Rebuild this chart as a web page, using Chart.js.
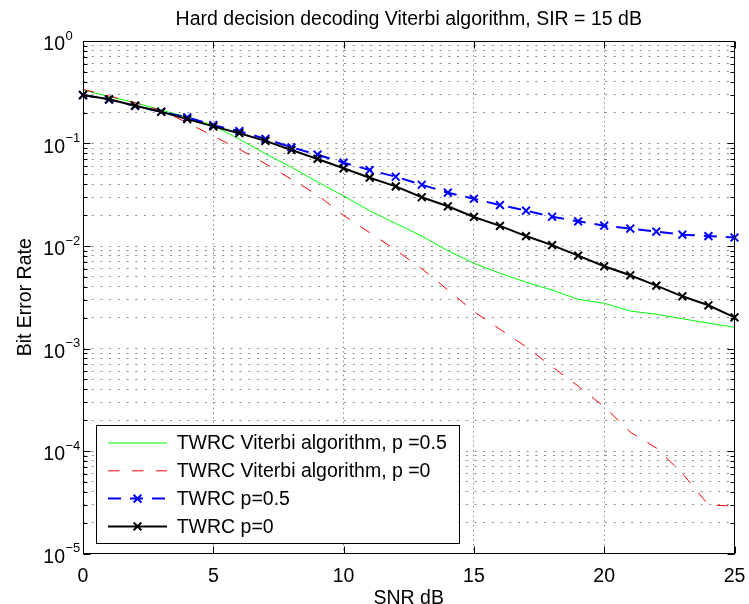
<!DOCTYPE html>
<html>
<head>
<meta charset="utf-8">
<script src="https://cdn.jsdelivr.net/npm/chart.js@4.4.1/dist/chart.umd.min.js"></script>
<style>
  html, body { margin: 0; padding: 0; background: #fff; }
</style>
</head>
<body>
<canvas id="berChart" width="749" height="604"></canvas>
<script>
// SNR points (dB)
const snr = [0, 1, 2, 3, 4, 5, 6, 7, 8, 9, 10, 11, 12, 13, 14, 15, 16, 17, 18, 19, 20, 21, 22, 23, 24, 25];

// BER curves
const viterbiHalf = [0.333, 0.287, 0.250, 0.212, 0.181, 0.150, 0.110, 0.0795, 0.0586, 0.0421, 0.0308, 0.0221, 0.0166,
  0.0125, 0.0090, 0.00678, 0.00542, 0.00443, 0.00372, 0.00302, 0.00276, 0.00232, 0.00216, 0.00195, 0.00177, 0.00161];
const viterbiZero = [0.338, 0.291, 0.250, 0.210, 0.160, 0.118, 0.0878, 0.0635, 0.0447, 0.0315, 0.0199, 0.0135, 0.00914,
  0.00601, 0.00372, 0.00229, 0.00154, 0.00104, 0.000664, 0.000430, 0.000270, 0.000153, 0.000107, 0.0000605, 0.0000297, 0.0000290];
const twrcHalf = [0.297, 0.268, 0.233, 0.204, 0.180, 0.151, 0.132, 0.111, 0.0918, 0.0778, 0.0650, 0.0551, 0.0474,
  0.0396, 0.0331, 0.0289, 0.0251, 0.0221, 0.0193, 0.0174, 0.0158, 0.0148, 0.0138, 0.0129, 0.0125, 0.0121];
const twrcZero = [0.297, 0.270, 0.234, 0.204, 0.173, 0.147, 0.126, 0.106, 0.0865, 0.0707, 0.0573, 0.0464, 0.0382,
  0.0299, 0.0244, 0.0192, 0.0157, 0.0125, 0.0102, 0.00805, 0.00634, 0.00518, 0.00410, 0.00323, 0.00264, 0.00201];

// axis ticks
const xTicks = [0, 5, 10, 15, 20, 25];
const yDecades = [-5, -4, -3, -2, -1, 0];
const yMinorSteps = [1, 2, 3, 4, 5, 6, 7, 8, 9];

const FONT = '"Liberation Sans", Arial, Helvetica, sans-serif';
const GRID = '#8c8c8c';

const toPoints = (ys) => snr.map((x, i) => ({ x: x, y: ys[i] }));

// box, inward ticks, 10^n labels and the legend, drawn like the matlab figure
const matlabAxes = {
    id: 'matlabAxes',
    afterDatasetsDraw(chart) {
        const ctx = chart.ctx;
        const area = chart.chartArea;
        const xs = chart.scales.x;
        const ys = chart.scales.y;
        const L = Math.round(area.left) + 0.5;
        const R = Math.round(area.right) - 0.5;
        const T = Math.round(area.top) + 0.5;
        const B = Math.round(area.bottom) - 0.5;

        ctx.save();
        ctx.strokeStyle = '#000';
        ctx.lineWidth = 1;
        ctx.setLineDash([]);

        // y ticks on both sides
        ys.ticks.forEach((t) => {
            const py = Math.round(ys.getPixelForValue(t.value)) + 0.5;
            const len = t.major ? 7 : 4;
            ctx.beginPath();
            ctx.moveTo(L, py); ctx.lineTo(L + len, py);
            ctx.moveTo(R, py); ctx.lineTo(R - len, py);
            ctx.stroke();
        });
        // x ticks top and bottom
        xs.ticks.forEach((t) => {
            const px = Math.round(xs.getPixelForValue(t.value)) + 0.5;
            ctx.beginPath();
            ctx.moveTo(px, B); ctx.lineTo(px, B - 7);
            ctx.moveTo(px, T); ctx.lineTo(px, T + 7);
            ctx.stroke();
        });
        ctx.strokeRect(L, T, R - L, B - T);

        // y labels as 10 with superscript exponent
        ctx.fillStyle = '#000';
        ys.ticks.filter((t) => t.major).forEach((t) => {
            const py = ys.getPixelForValue(t.value);
            const e = Math.round(Math.log10(t.value));
            const xBase = area.left - 18;
            ctx.font = '19.5px ' + FONT;
            ctx.textAlign = 'right';
            ctx.textBaseline = 'middle';
            ctx.fillText('10', xBase, py + 4);
            ctx.font = '13px ' + FONT;
            ctx.textAlign = 'left';
            ctx.fillText(e === 0 ? '0' : '\u2212' + Math.abs(e), xBase + 0.5, py - 5);
        });

        // legend box in the lower left corner
        const bx = area.left + 12.7;
        const bw = 362.6;
        const bh = 118.3;
        const by = area.bottom - 10.2 - bh;
        ctx.fillStyle = '#fff';
        ctx.fillRect(bx, by, bw, bh);
        ctx.strokeRect(Math.round(bx) + 0.5, Math.round(by) + 0.5, Math.round(bw), Math.round(bh));

        chart.data.datasets.forEach((ds, i) => {
            const rowY = by + 18 + i * 27.8;
            const x0 = bx + 12.3;
            const x1 = bx + 71.3;
            ctx.strokeStyle = ds.borderColor;
            ctx.lineWidth = ds.borderWidth;
            ctx.setLineDash(ds.borderDash || []);
            ctx.beginPath();
            ctx.moveTo(x0, rowY); ctx.lineTo(x1, rowY);
            ctx.stroke();
            ctx.setLineDash([]);
            if (ds.pointRadius > 0) {
                const cx = (x0 + x1) / 2;
                const h = ds.pointRadius * Math.SQRT1_2;
                ctx.lineWidth = ds.pointBorderWidth;
                ctx.beginPath();
                ctx.moveTo(cx - h, rowY - h); ctx.lineTo(cx + h, rowY + h);
                ctx.moveTo(cx - h, rowY + h); ctx.lineTo(cx + h, rowY - h);
                ctx.stroke();
            }
            ctx.fillStyle = '#000';
            ctx.font = '19.5px ' + FONT;
            ctx.textAlign = 'left';
            ctx.textBaseline = 'middle';
            ctx.fillText(ds.label, bx + 81, rowY + 1);
        });
        ctx.restore();
    }
};

const ctx = document.getElementById('berChart').getContext('2d');
new Chart(ctx, {
    type: 'line',
    data: {
        datasets: [
            {
                label: 'TWRC Viterbi algorithm, p =0.5',
                data: toPoints(viterbiHalf),
                borderColor: '#00ff00',
                borderWidth: 1,
                pointRadius: 0,
                order: 3
            },
            {
                label: 'TWRC Viterbi algorithm, p =0',
                data: toPoints(viterbiZero),
                borderColor: '#ff0000',
                borderWidth: 1,
                borderDash: [11.5, 12.5],
                pointRadius: 0,
                order: 2
            },
            {
                label: 'TWRC p=0.5',
                data: toPoints(twrcHalf),
                borderColor: '#0000ff',
                borderWidth: 2,
                borderDash: [13, 9],
                pointStyle: 'crossRot',
                pointRadius: 5.5,
                pointBorderWidth: 2,
                pointBorderColor: '#0000ff',
                pointBackgroundColor: '#0000ff',
                order: 1,
                clip: false
            },
            {
                label: 'TWRC p=0',
                data: toPoints(twrcZero),
                borderColor: '#000000',
                borderWidth: 2,
                pointStyle: 'crossRot',
                pointRadius: 5.5,
                pointBorderWidth: 2,
                pointBorderColor: '#000000',
                pointBackgroundColor: '#000000',
                order: 0,
                clip: false
            }
        ]
    },
    options: {
        responsive: false,
        animation: false,
        devicePixelRatio: 1,
        layout: { autoPadding: false, padding: { left: 0, right: 14.5, top: 0, bottom: 0 } },
        elements: { line: { tension: 0 } },
        plugins: {
            legend: { display: false },
            tooltip: { enabled: false },
            title: {
                display: true,
                fullSize: false,
                text: 'Hard decision decoding Viterbi algorithm, SIR = 15 dB',
                color: '#000',
                font: { family: FONT, size: 19.5, weight: 'normal', lineHeight: 1.2 },
                padding: { top: 8, bottom: 9.6 }
            }
        },
        scales: {
            x: {
                type: 'linear',
                min: 0,
                max: 25,
                afterBuildTicks: (scale) => {
                    scale.ticks = xTicks.map((v) => ({ value: v }));
                },
                afterFit: (scale) => {
                    // fixed axis band, and no extra side room for the end labels
                    scale.height = 50.5;
                    scale.paddingLeft = 0;
                    scale.paddingRight = 0;
                },
                grid: { color: GRID, lineWidth: 1, drawTicks: false },
                border: { display: false, dash: [1.5, 3.2] },
                ticks: {
                    color: '#000',
                    font: { family: FONT, size: 19.5 },
                    padding: 11,
                    maxRotation: 0,
                    autoSkip: false
                },
                title: {
                    display: true,
                    text: 'SNR dB',
                    color: '#000',
                    font: { family: FONT, size: 19.5, lineHeight: 0.56 },
                    padding: { top: 0, bottom: 0 }
                }
            },
            y: {
                type: 'logarithmic',
                min: 1e-5,
                max: 1,
                afterBuildTicks: (scale) => {
                    const ticks = [];
                    yDecades.forEach((e) => {
                        yMinorSteps.forEach((m) => {
                            const v = m * Math.pow(10, e);
                            if (v <= 1) ticks.push({ value: v, major: m === 1 });
                        });
                    });
                    scale.ticks = ticks;
                },
                afterFit: (scale) => { scale.width = 83; },
                grid: { color: GRID, lineWidth: 1, drawTicks: false },
                border: { display: false, dash: [2, 6.7] },
                ticks: { display: false, autoSkip: false },
                title: {
                    display: true,
                    text: 'Bit Error Rate',
                    color: '#000',
                    font: { family: FONT, size: 19.5, lineHeight: 1 },
                    padding: { top: 16, bottom: 0 }
                }
            }
        }
    },
    plugins: [matlabAxes]
});
</script>
</body>
</html>
